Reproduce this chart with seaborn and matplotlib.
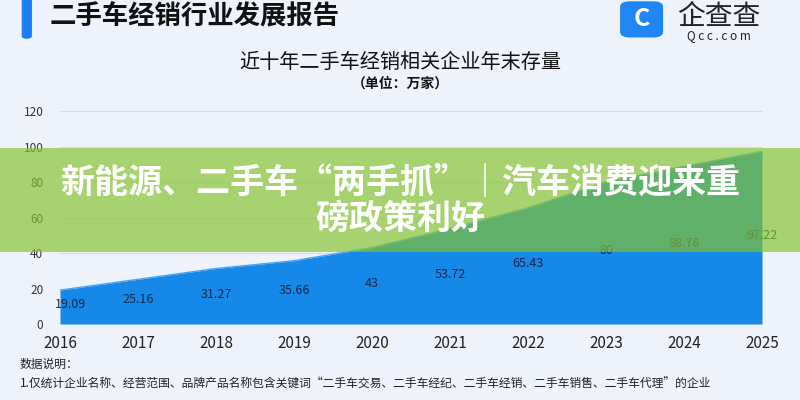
import matplotlib
matplotlib.use("Agg")
import matplotlib.pyplot as plt
import seaborn as sns
import pandas as pd
from matplotlib.patches import Rectangle, FancyBboxPatch

# data
years = [2016, 2017, 2018, 2019, 2020, 2021, 2022, 2023, 2024, 2025]
stock = [19.09, 25.16, 31.27, 35.66, 43, 53.72, 65.43, 80, 88.78, 97.22]
stock_labels = ["19.09", "25.16", "31.27", "35.66", "43", "53.72", "65.43", "80", "88.78", "97.22"]
y_ticks = [0, 20, 40, 60, 80, 100, 120]

header = "二手车经销行业发展报告"
chart_title = "近十年二手车经销相关企业年末存量"
chart_unit = "（单位：万家）"
banner_lines = ["新能源、二手车“两手抓”｜汽车消费迎来重", "磅政策利好"]
note_head = "数据说明："
note_text = "1.仅统计企业名称、经营范围、品牌产品名称包含关键词“二手车交易、二手车经纪、二手车经销、二手车销售、二手车代理”的企业"

df = pd.DataFrame({"year": years, "stock": stock})

sns.set_theme(style="whitegrid")
plt.rcParams["font.family"] = ["Noto Sans CJK SC", "DejaVu Sans"]

fig = plt.figure(figsize=(8, 4), dpi=100, facecolor="#eef2fb")
ax = fig.add_axes([0.075, 0.19, 0.8775, 0.5325])
ax.set_facecolor("none")

blue = "#1688e8"
sns.lineplot(data=df, x="year", y="stock", ax=ax, color="#4aa3f0", linewidth=1)
ax.fill_between(df["year"], 0, df["stock"], color=blue, linewidth=0)

for i, (x, v, s) in enumerate(zip(years, stock, stock_labels)):
    dx = 0.13 if i == 0 else 0
    ax.text(x + dx, v / 2 + 1.2, s, ha="center", va="center", fontsize=9, color="#16294a")

ax.set_xlim(years[0], years[-1])
ax.set_ylim(0, 120)
ax.set_xticks(years)
ax.set_yticks(y_ticks)
ax.tick_params(axis="x", labelsize=11, colors="#222222", pad=2)
ax.tick_params(axis="y", labelsize=8.5, colors="#333333", pad=6)
ax.set_xlabel("")
ax.set_ylabel("")
ax.grid(axis="x", visible=False)
ax.grid(axis="y", color="#d8dce6", linewidth=0.8)
for sp in ax.spines.values():
    sp.set_visible(False)

# header bar and title
fig.patches.append(FancyBboxPatch((0.028, 0.905), 0.011, 0.12, boxstyle="round,pad=0,rounding_size=0.005",
                                  transform=fig.transFigure, color="#1a7ff0", zorder=2))
fig.text(0.062, 0.958, header, fontsize=19, fontweight="bold", color="#111111", va="center")

# logo
fig.patches.append(FancyBboxPatch((0.776, 0.908), 0.052, 0.087, boxstyle="round,pad=0,rounding_size=0.012",
                                  transform=fig.transFigure, color="#1f86f2", zorder=2))
fig.text(0.802, 0.952, "C", fontsize=18, fontweight="bold", color="white", ha="center", va="center")
fig.text(0.899, 0.958, "企查查", fontsize=20, color="#222222", ha="center", va="center")
fig.text(0.899, 0.912, "Q c c . c o m", fontsize=8.5, color="#222222", ha="center", va="center")

fig.text(0.5, 0.845, chart_title, fontsize=14.5, color="#111111", ha="center", va="center")
fig.text(0.5, 0.792, chart_unit, fontsize=10, fontweight="bold", color="#111111", ha="center", va="center")

fig.text(0.025, 0.09, note_head, fontsize=8.5, color="#222222", va="center")
fig.text(0.025, 0.04, note_text, fontsize=8.5, color="#222222", va="center")

# green banner over the chart
fig.patches.append(Rectangle((0, 0.37), 1, 0.26, transform=fig.transFigure,
                             color="#86c42e", alpha=0.68, zorder=5, linewidth=0))
fig.text(0.5, 0.543, banner_lines[0], fontsize=24.5, fontweight="heavy", color="white",
         ha="center", va="center", zorder=6)
fig.text(0.5, 0.455, banner_lines[1], fontsize=24.5, fontweight="heavy", color="white",
         ha="center", va="center", zorder=6)

fig.savefig("out.png", dpi=100, facecolor=fig.get_facecolor())
